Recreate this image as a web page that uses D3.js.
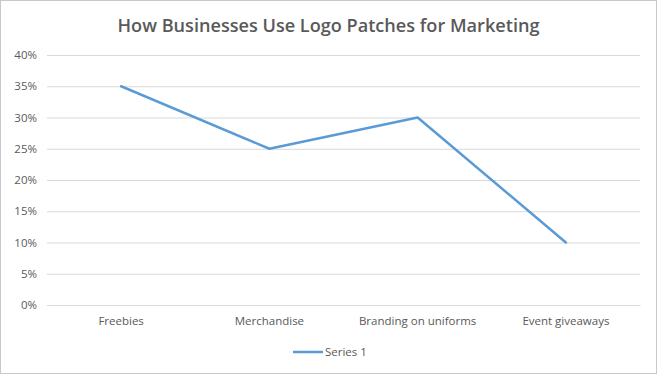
<!DOCTYPE html>
<html><head><meta charset="utf-8">
<script src="https://cdn.jsdelivr.net/npm/d3@7"></script>
<style>html,body{margin:0;padding:0;background:#fff;}svg{display:block;}</style>
</head><body>
<script>
const categories = ["Freebies", "Merchandise", "Branding on uniforms", "Event giveaways"];
const series1 = [0.35, 0.25, 0.30, 0.10];
const yTicks = [0, 0.05, 0.10, 0.15, 0.20, 0.25, 0.30, 0.35, 0.40];
const seriesName = "Series 1";
const title = "How Businesses Use Logo Patches for Marketing";

const W = 657, H = 374;
const m = {left: 47, right: 17, top: 55, bottom: 69};
const font = "'Open Sans', 'Liberation Sans', sans-serif";
const svg = d3.select("body").append("svg").attr("width", W).attr("height", H);
svg.append("rect").attr("x", 0.5).attr("y", 0.5).attr("width", W - 1).attr("height", H - 1)
  .attr("fill", "#fff").attr("stroke", "#c8c8c8");

const x = d3.scaleBand().domain(categories).range([m.left, W - m.right]);
const y = d3.scaleLinear().domain([0, 0.40]).range([H - m.bottom, m.top]);

svg.append("text").attr("x", W / 2).attr("y", 32).attr("text-anchor", "middle")
  .attr("font-family", font).attr("font-size", 18).attr("font-weight", 600).attr("fill", "#595959")
  .attr("textLength", 422).attr("lengthAdjust", "spacingAndGlyphs")
  .text(title);

const gy = svg.append("g").attr("transform", `translate(${m.left},0)`)
  .call(d3.axisLeft(y).tickValues(yTicks).tickFormat(d3.format(".0%")).tickSize(-(W - m.left - m.right)).tickPadding(10));
gy.select(".domain").remove();
gy.selectAll(".tick line").attr("stroke", "#d9d9d9");
gy.selectAll(".tick text").attr("font-family", font).attr("font-size", 11.5).attr("fill", "#595959");

const gx = svg.append("g").attr("transform", `translate(0,${H - m.bottom})`)
  .call(d3.axisBottom(x).tickSize(0).tickPadding(12));
gx.select(".domain").attr("stroke", "#d9d9d9");
gx.selectAll(".tick text").attr("font-family", font).attr("font-size", 11.5).attr("fill", "#595959");

const line = d3.line().x((d, i) => x(categories[i]) + x.bandwidth() / 2).y(d => y(d));
svg.append("path").datum(series1).attr("d", line).attr("fill", "none")
  .attr("stroke", "#5B9BD5").attr("stroke-width", 2.5).attr("stroke-linejoin", "round").attr("stroke-linecap", "round");

const lg = svg.append("g").attr("transform", "translate(293,352)");
lg.append("line").attr("x1", 0).attr("x2", 30).attr("stroke", "#5B9BD5").attr("stroke-width", 2.5);
lg.append("text").attr("x", 32).attr("y", 4).attr("font-family", font).attr("font-size", 11.5)
  .attr("fill", "#595959").text(seriesName);
</script>
</body></html>
